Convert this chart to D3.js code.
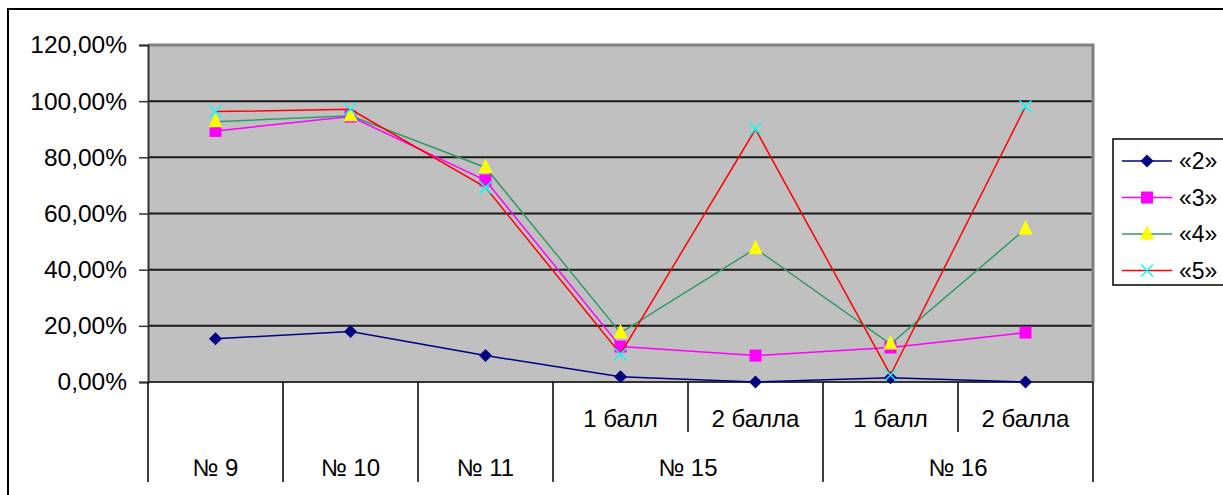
<!DOCTYPE html>
<html>
<head>
<meta charset="utf-8">
<script src="https://cdn.jsdelivr.net/npm/d3@7"></script>
<style>
  body { margin: 0; background: #fff; }
  svg text { font-family: "Liberation Sans", Arial, sans-serif; fill: #000; }
</style>
</head>
<body>
<svg id="chart" width="1223" height="495"></svg>
<script>
// categories (two rows on the x axis)
var subLabels = ["", "", "", "1 балл", "2 балла", "1 балл", "2 балла"];
var groupLabels = ["№ 9", "№ 10", "№ 11", "№ 15", "№ 16"];
var groupSpans = [1, 1, 1, 2, 2];

// series values, in percent
var seriesNames = ["«2»", "«3»", "«4»", "«5»"];
var s2 = [15.4, 18.0, 9.4, 1.9, 0, 1.5, 0];
var s3 = [89.4, 94.5, 71.8, 12.6, 9.4, 12.3, 17.6];
var s4 = [92.7, 94.8, 76.4, 17.5, 47.5, 13.5, 54.5];
var s5 = [96.3, 97.1, 69.3, 10.0, 90.0, 2.5, 98.1];

var yTicks = [0, 20, 40, 60, 80, 100, 120];

var svg = d3.select("svg#chart"),
    width = +svg.attr("width"),
    height = +svg.attr("height");

var plot = {left: 148, right: 1093, top: 45, bottom: 382};

var x = d3.scaleBand()
    .domain(d3.range(subLabels.length))
    .range([plot.left, plot.right]);

var y = d3.scaleLinear()
    .domain([0, 120])
    .range([plot.bottom, plot.top]);

var lineColors = ["#000080", "#FF00FF", "#339966", "#FF0000"];
var markerFill = ["#000080", "#FF00FF", "#FFFF00", "#00FFFF"];
var markerType = ["diamond", "square", "triangle", "x"];

var series = [s2, s3, s4, s5].map(function(vals, i) {
  return {name: seriesNames[i], values: vals, color: lineColors[i], mark: markerFill[i], type: markerType[i]};
});

// outer frame
svg.append("rect")
    .attr("x", 8).attr("y", 9)
    .attr("width", width + 10).attr("height", height + 10)
    .attr("fill", "none").attr("stroke", "#000").attr("stroke-width", 2);

// plot area
svg.append("rect")
    .attr("x", plot.left).attr("y", plot.top)
    .attr("width", plot.right - plot.left).attr("height", plot.bottom - plot.top)
    .attr("fill", "#C0C0C0");

// gridlines
svg.append("g").selectAll("line")
  .data(yTicks.filter(function(d) { return d > 0 && d < 120; }))
  .enter().append("line")
    .attr("x1", plot.left).attr("x2", plot.right)
    .attr("y1", function(d) { return y(d); })
    .attr("y2", function(d) { return y(d); })
    .attr("stroke", "#1a1a1a").attr("stroke-width", 2);

// gray border top/right
svg.append("path")
    .attr("d", "M" + plot.left + "," + plot.top + "H" + plot.right + "V" + plot.bottom)
    .attr("fill", "none").attr("stroke", "#808080").attr("stroke-width", 3);

// y axis
var yAxis = d3.axisLeft(y)
    .tickValues(yTicks)
    .tickSize(9)
    .tickPadding(12)
    .tickFormat(function(d) { return d3.format(".2f")(d).replace(".", ",") + "%"; });

var yg = svg.append("g")
    .attr("transform", "translate(" + plot.left + ",0)")
    .call(yAxis);
yg.select(".domain").attr("stroke", "#333").attr("stroke-width", 2);
yg.selectAll(".tick line").attr("stroke", "#333").attr("stroke-width", 1.5);
yg.selectAll("text")
    .attr("font-size", 24.5)
    .attr("font-family", "Liberation Sans, Arial, sans-serif")
    .attr("fill", "#000");

// x axis baseline
svg.append("line")
    .attr("x1", plot.left).attr("x2", plot.right)
    .attr("y1", plot.bottom).attr("y2", plot.bottom)
    .attr("stroke", "#333").attr("stroke-width", 2);

// x axis: group boundaries (long) and sub boundaries (short)
var starts = [];
var acc = 0;
groupSpans.forEach(function(s) { starts.push(acc); acc += s; });

var xg = svg.append("g");
var bounds = starts.concat([subLabels.length]);
xg.selectAll("line.group")
  .data(bounds)
  .enter().append("line")
    .attr("class", "group")
    .attr("x1", function(d) { return d < subLabels.length ? x(d) : x.range()[1]; })
    .attr("x2", function(d) { return d < subLabels.length ? x(d) : x.range()[1]; })
    .attr("y1", plot.bottom).attr("y2", 482)
    .attr("stroke", "#000").attr("stroke-width", 1.5);

var subBounds = [];
groupSpans.forEach(function(s, i) {
  for (var k = 1; k < s; k++) subBounds.push(starts[i] + k);
});
xg.selectAll("line.sub")
  .data(subBounds)
  .enter().append("line")
    .attr("class", "sub")
    .attr("x1", function(d) { return x(d); })
    .attr("x2", function(d) { return x(d); })
    .attr("y1", plot.bottom).attr("y2", 432)
    .attr("stroke", "#000").attr("stroke-width", 1.5);

xg.selectAll("text.sub")
  .data(subLabels)
  .enter().append("text")
    .attr("class", "sub")
    .attr("x", function(d, i) { return x(i) + x.bandwidth() / 2; })
    .attr("y", 427)
    .attr("text-anchor", "middle")
    .attr("font-size", 24)
    .text(function(d) { return d; });

xg.selectAll("text.group")
  .data(groupLabels)
  .enter().append("text")
    .attr("class", "group")
    .attr("x", function(d, i) { return (x(starts[i]) + x(starts[i]) + groupSpans[i] * x.bandwidth()) / 2; })
    .attr("y", 476)
    .attr("text-anchor", "middle")
    .attr("font-size", 24)
    .text(function(d) { return d; });

// lines
var line = d3.line()
    .x(function(d, i) { return x(i) + x.bandwidth() / 2; })
    .y(function(d) { return y(d); });

function drawMarker(sel, type, fill) {
  if (type === "diamond") {
    sel.append("path").attr("d", "M0,-6.5L6.5,0L0,6.5L-6.5,0Z").attr("fill", fill);
  } else if (type === "square") {
    sel.append("rect").attr("x", -6).attr("y", -6).attr("width", 12).attr("height", 12).attr("fill", fill);
  } else if (type === "triangle") {
    sel.append("path").attr("d", "M0,-9L7,5.5L-7,5.5Z").attr("fill", fill);
  } else {
    sel.append("path").attr("d", "M-6,-6L6,6M6,-6L-6,6").attr("stroke", fill).attr("stroke-width", 1.5).attr("fill", "none");
  }
}

var sg = svg.append("g").selectAll("g")
  .data(series)
  .enter().append("g");

sg.append("path")
    .attr("d", function(d) { return line(d.values); })
    .attr("fill", "none")
    .attr("stroke", function(d) { return d.color; })
    .attr("stroke-width", 1.5);

sg.each(function(s) {
  d3.select(this).selectAll("g.pt")
    .data(s.values)
    .enter().append("g")
      .attr("class", "pt")
      .attr("transform", function(d, i) { return "translate(" + (x(i) + x.bandwidth() / 2) + "," + y(d) + ")"; })
      .each(function() { drawMarker(d3.select(this), s.type, s.mark); });
});

// legend
var legend = svg.append("g").attr("transform", "translate(1113,139)");
legend.append("rect")
    .attr("width", 130).attr("height", 146)
    .attr("fill", "#fff").attr("stroke", "#000").attr("stroke-width", 1.5);

var item = legend.selectAll("g.item")
  .data(series)
  .enter().append("g")
    .attr("class", "item")
    .attr("transform", function(d, i) { return "translate(0," + (22 + i * 36.5) + ")"; });

item.append("line")
    .attr("x1", 9).attr("x2", 59)
    .attr("stroke", function(d) { return d.color; })
    .attr("stroke-width", 1.5);

item.append("g")
    .attr("transform", "translate(34,0)")
    .each(function(d) { drawMarker(d3.select(this), d.type, d.mark); });

item.append("text")
    .attr("x", 66).attr("y", 8)
    .attr("font-size", 23)
    .text(function(d) { return d.name; });
</script>
</body>
</html>
